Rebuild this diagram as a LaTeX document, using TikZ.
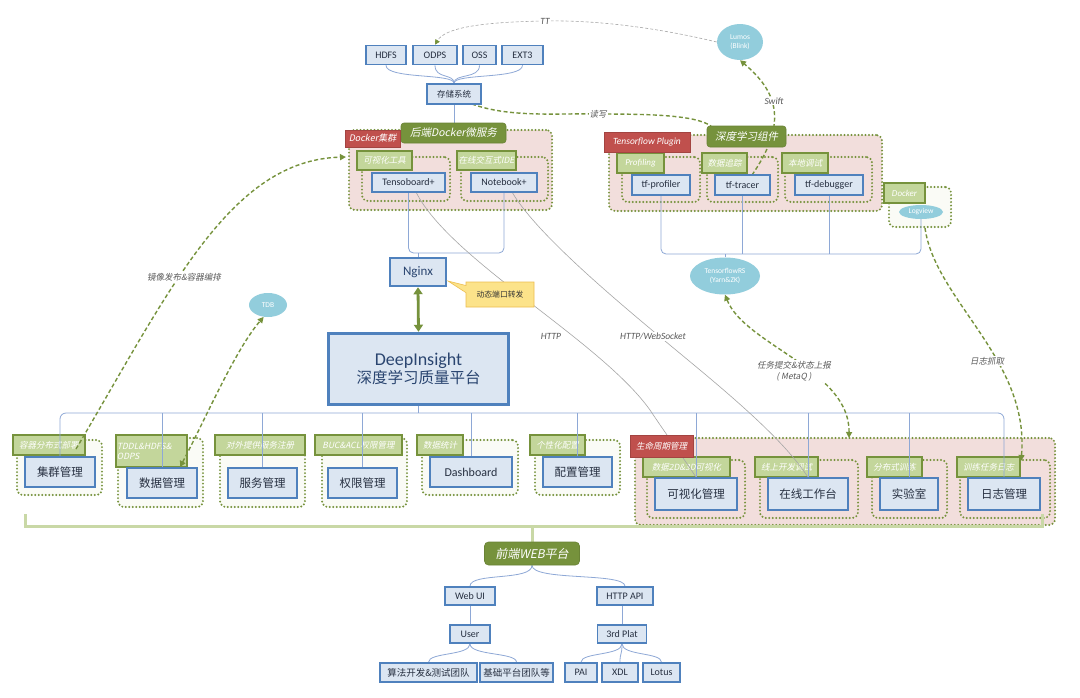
\documentclass[tikz,border=0pt]{standalone}
\usepackage{fontspec}
\setmainfont{Carlito}
\newfontfamily\cjk{Noto Sans CJK SC}
\newfontfamily\cjki[FakeSlant=0.2]{Noto Sans CJK SC}
\usetikzlibrary{shapes.geometric,shapes.callouts,arrows.meta}
\pgfdeclarelayer{bg}
\pgfdeclarelayer{mid}
\pgfsetlayers{bg,mid,main}
\definecolor{bxfill}{HTML}{DCE6F2}
\definecolor{bxline}{HTML}{4F81BD}
\definecolor{txtc}{HTML}{262F40}
\definecolor{ditxt}{HTML}{2A4570}
\definecolor{gdark}{HTML}{76923C}
\definecolor{glight}{HTML}{C3D69B}
\definecolor{rred}{HTML}{C0504D}
\definecolor{pinkf}{HTML}{F2DEDC}
\definecolor{grpw}{HTML}{FAFBF6}
\definecolor{ellf}{HTML}{92CDDC}
\definecolor{connc}{HTML}{8EA8D6}
\definecolor{callf}{HTML}{FCE38A}
\definecolor{callb}{HTML}{EDBE50}
\definecolor{brkc}{HTML}{C9D8A6}
\definecolor{lblc}{HTML}{595959}
\tikzset{
 bx/.style={draw=bxline, line width=1.6pt, fill=bxfill, text=txtc, inner sep=0pt, font=\fontsize{10}{12}\selectfont},
 bxc/.style={bx, font=\cjk\fontsize{11.5}{13}\selectfont},
 bxs/.style={bx, font=\cjk\fontsize{9.5}{11}\selectfont},
 grp/.style={draw=gdark, line width=2.2pt, dash pattern=on 0pt off 3.5pt, line cap=round, rounded corners=6pt, inner sep=0pt},
 tagbox/.style={draw=gdark, line width=1.6pt, fill=glight, text=white, inner sep=1pt, font=\cjki\fontsize{8.5}{10}\selectfont},
 redbox/.style={draw=rred!85!black, line width=0.8pt, fill=rred, text=white, inner sep=1pt},
 ttlbox/.style={fill=gdark, draw=gdark!90!black, line width=0.6pt, rounded corners=3pt, text=white, inner sep=1pt},
 ell/.style={ellipse, fill=ellf, text=white, inner sep=0pt, align=center, font=\fontsize{7.5}{8.5}\selectfont},
 conn/.style={draw=connc, line width=0.8pt},
 thinc/.style={draw=gray!70, line width=0.6pt},
 dashg/.style={draw=gdark, line width=1.4pt, dash pattern=on 4pt off 2.5pt},
 tipg/.style={-{Triangle[length=6pt,width=6pt]}},
 tipgg/.style={{Triangle[length=6pt,width=6pt]}-{Triangle[length=6pt,width=6pt]}},
 lbl/.style={text=lblc, font=\itshape\fontsize{9.5}{11}\selectfont, inner sep=1pt},
 lblc/.style={lbl, font=\cjki\fontsize{8.5}{11}\selectfont},
 brk/.style={draw=brkc, line width=3pt},
}
\begin{document}
\begin{tikzpicture}[x=1pt,y=-1pt]
\useasboundingbox (0,0) rectangle (1080,697);
\begin{pgfonlayer}{bg}
\fill[white] (0,0) rectangle (1080,697);
% top groups
\node[grp, fill=pinkf, minimum width=203, minimum height=80] (gdk) at (450.5,170) {};
\node[grp, fill=pinkf, minimum width=88, minimum height=44] (gtb) at (406,179) {};
\node[grp, fill=pinkf, minimum width=87, minimum height=44] (gnb) at (504.5,179) {};
\node[grp, fill=pinkf, minimum width=273, minimum height=76] (gtf) at (745.5,173) {};
\node[grp, fill=pinkf, minimum width=78, minimum height=45] (gpr) at (661,179.5) {};
\node[grp, fill=pinkf, minimum width=71, minimum height=45] (gtr) at (742.5,179.5) {};
\node[grp, fill=pinkf, minimum width=87, minimum height=45] (gdb) at (828.5,179.5) {};
\node[grp, fill=grpw, minimum width=62, minimum height=40] (gdr) at (920,207) {};
\node[tagbox, minimum width=55, minimum height=19] (tg1) at (384.5,160.5) {可视化工具};
\node[tagbox, minimum width=59, minimum height=19] (tg2) at (486.5,160.5) {在线交互式IDE};
\node[tagbox, minimum width=47, minimum height=20, font=\itshape\fontsize{9}{10}\selectfont] (tg3) at (640.5,163) {Profiling};
\node[tagbox, minimum width=45, minimum height=20] (tg4) at (724.5,163) {数据追踪};
\node[tagbox, minimum width=46, minimum height=20] (tg5) at (805,163) {本地调试};
\node[tagbox, minimum width=41, minimum height=20, font=\itshape\fontsize{9}{10}\selectfont] (tg6) at (904.5,193) {Docker};
% bottom groups
\node[grp, fill=grpw, minimum width=85, minimum height=55] (g1) at (59.5,467.5) {};
\node[grp, fill=grpw, minimum width=85, minimum height=69] (g2) at (160.5,472.5) {};
\node[grp, fill=grpw, minimum width=85, minimum height=69] (g3) at (262.5,472.5) {};
\node[grp, fill=grpw, minimum width=85, minimum height=69] (g4) at (364.5,472.5) {};
\node[grp, fill=grpw, minimum width=96, minimum height=55] (g5) at (470,467.5) {};
\node[grp, fill=grpw, minimum width=85, minimum height=55] (g6) at (577.5,467.5) {};
\node[grp, fill=pinkf, minimum width=420, minimum height=87] (glc) at (845,481.5) {};
\node[grp, fill=pinkf, minimum width=98, minimum height=58] (ga) at (696,489) {};
\node[grp, fill=pinkf, minimum width=98, minimum height=58] (gb) at (809,489) {};
\node[grp, fill=pinkf, minimum width=75, minimum height=58] (gc) at (909.5,489) {};
\node[grp, fill=pinkf, minimum width=90, minimum height=58] (gd) at (1005,489) {};
\node[tagbox, minimum width=72, minimum height=20] (t1) at (49,445) {容器分布式部署};
\node[tagbox, minimum height=32, text width=69, align=left] (t2) at (151.5,451) {TDDL\&HDFS\&\\ODPS};
\node[tagbox, minimum width=90, minimum height=20] (t3) at (260,445) {对外提供服务注册};
\node[tagbox, minimum width=87, minimum height=20] (t4) at (358.5,445) {BUC\&ACL权限管理};
\node[tagbox, minimum width=46, minimum height=20] (t5) at (440,445) {数据统计};
\node[tagbox, minimum width=55, minimum height=20] (t6) at (557.5,445) {个性化配置};
\node[tagbox, minimum width=87, minimum height=20] (ta) at (686.5,467) {数据2D\&3D可视化};
\node[tagbox, minimum width=63, minimum height=20] (tb2) at (786.5,467) {线上开发调试};
\node[tagbox, minimum width=55, minimum height=20] (tc) at (894.5,467) {分布式训练};
\node[tagbox, minimum width=63, minimum height=20] (td2) at (988.5,467) {训练任务日志};
\end{pgfonlayer}
% storage
\node[bx, minimum width=40, minimum height=19] (hdfs) at (386,55) {HDFS};
\node[bx, minimum width=44, minimum height=19] (odps) at (435,55) {ODPS};
\node[bx, minimum width=33, minimum height=19] (oss) at (479.5,55) {OSS};
\node[bx, minimum width=41, minimum height=19] (ext) at (522.5,55) {EXT3};
\node[bx, minimum width=54, minimum height=20, font=\cjk\fontsize{8.5}{10}\selectfont] (ss) at (454,94) {存储系统};
% docker
\node[ttlbox, minimum width=105, minimum height=20, font=\cjki\fontsize{10.5}{12}\selectfont] (dt) at (453.5,133) {后端Docker微服务};
\node[redbox, minimum width=55, minimum height=17, font=\cjki\fontsize{9}{10}\selectfont] (dr) at (372.5,138.5) {Docker集群};
\node[bx, minimum width=73, minimum height=19] (tb) at (408.5,182.5) {Tensoboard+};
\node[bx, minimum width=66, minimum height=19] (nb) at (504,182.5) {Notebook+};
% tensorflow plugin
\node[ttlbox, minimum width=79, minimum height=21, font=\cjki\fontsize{10.5}{12}\selectfont] (dl) at (746.5,136.5) {深度学习组件};
\node[redbox, minimum width=86, minimum height=20, font=\itshape\fontsize{9.5}{11}\selectfont] (tfp) at (647,142) {Tensorflow Plugin};
\node[bx, minimum width=58, minimum height=20] (tp) at (661,185) {tf-profiler};
\node[bx, minimum width=55, minimum height=20] (tt) at (742.5,185) {tf-tracer};
\node[bx, minimum width=68, minimum height=20] (tdg) at (829,185) {tf-debugger};
% ellipses
\node[ell, minimum width=46, minimum height=36] (lm) at (740,42) {Lumos\\(Blink)};
\node[ell, minimum width=70, minimum height=37] (rs) at (725,276) {TensorflowRS\\(Yarn\&ZK)};
\node[ell, minimum width=38, minimum height=24] (tdb) at (268,305) {TDB};
\node[ell, minimum width=44, minimum height=14] (lv) at (921,212) {Logview};
% nginx and core
\node[bx, line width=2.5pt, minimum width=56, minimum height=28, font=\fontsize{13}{15}\selectfont, text=ditxt] (ng) at (418,272) {Nginx};
\node[rectangle callout, fill=callf, draw=callb, line width=0.6pt, minimum width=68, minimum height=25, callout absolute pointer={(448,281)}, font=\cjk\fontsize{7.8}{9}\selectfont, text=black!80, inner sep=1pt] (cb) at (500,294.5) {动态端口转发};
\node[bx, line width=3.5pt, minimum width=180, minimum height=71, align=center, text=ditxt] (di) at (418.5,369) {\fontsize{18}{22}\selectfont DeepInsight\\[1pt]{\cjk\fontsize{15.5}{19}\selectfont 深度学习质量平台}};
% bottom row
\node[bxc, minimum width=70, minimum height=30] (b1) at (60,472) {集群管理};
\node[bxc, minimum width=70, minimum height=30] (b2) at (162,483) {数据管理};
\node[bxc, minimum width=69, minimum height=30] (b3) at (262.5,483) {服务管理};
\node[bxc, minimum width=69, minimum height=30] (b4) at (362.5,483) {权限管理};
\node[bx, minimum width=82, minimum height=30, font=\fontsize{12}{14}\selectfont] (b5) at (471,472) {Dashboard};
\node[bxc, minimum width=69, minimum height=30] (b6) at (577.5,472) {配置管理};
\node[bxc, minimum width=82, minimum height=32] (b7) at (696,494) {可视化管理};
\node[bxc, minimum width=80, minimum height=32] (b8) at (808,494) {在线工作台};
\node[bxc, minimum width=58, minimum height=32] (b9) at (909,494) {实验室};
\node[bxc, minimum width=72, minimum height=32] (b10) at (1004,494) {日志管理};
\node[redbox, minimum width=63, minimum height=22, font=\cjki\fontsize{8.5}{10}\selectfont] (lc) at (661.5,446) {生命周期管理};
% web platform
\node[ttlbox, rounded corners=4pt, minimum width=95, minimum height=23, font=\cjki\fontsize{12}{14}\selectfont] (web) at (532,553.5) {前端WEB平台};
\node[bx, minimum width=50, minimum height=18] (wui) at (470,596) {Web UI};
\node[bx, minimum width=56, minimum height=18] (api) at (625,596) {HTTP API};
\node[bx, minimum width=40, minimum height=18] (usr) at (470,634) {User};
\node[bx, minimum width=49, minimum height=18] (plat) at (622,634) {3rd Plat};
\node[bxs, minimum width=97, minimum height=19] (alg) at (428.5,672.5) {算法开发\&测试团队};
\node[bxs, minimum width=73, minimum height=19] (jc) at (516.5,672.5) {基础平台团队等};
\node[bx, minimum width=32, minimum height=19] (pai) at (581,672.5) {PAI};
\node[bx, minimum width=36, minimum height=19] (xdl) at (620,672.5) {XDL};
\node[bx, minimum width=37, minimum height=19] (lot) at (661.5,672.5) {Lotus};
% coordinates for free ends
\coordinate (c1a) at (76,449);
\coordinate (c1b) at (346,157);
\coordinate (c2a) at (180,467);
\coordinate (c3a) at (472,104);
\coordinate (c3b) at (711,126);
\coordinate (c5a) at (752,175);
\coordinate (c6b) at (849,438);
\coordinate (c7a) at (925,228);
\coordinate (c7b) at (1021,461);
\coordinate (c8a) at (416,192);
\coordinate (c9a) at (512,192);
\begin{pgfonlayer}{mid}
% storage tree
\foreach \n in {hdfs,odps,oss,ext} \draw[conn] (\n.south) .. controls +(0,14) and +(0,-10) .. (ss.north);
\draw[conn] (ss.south) -- (ss.south |- dt.north);
% docker tree
\draw[conn, rounded corners=5pt] (tb.south) -- (tb.south |- 0,253) -- (nb.south |- 0,253) -- (nb.south);
\draw[conn] (ng.north) -- (ng.north |- 0,253);
% tf tree
\draw[conn, rounded corners=5pt] (tp.south) -- (tp.south |- 0,254) -- (lv.south |- 0,254) -- (lv.south);
\draw[conn] (tt.south) -- (tt.south |- 0,254);
\draw[conn] (tdg.south) -- (tdg.south |- 0,254);
\draw[conn] (rs.north) -- (rs.north |- 0,254);
% core tree
\draw[conn, rounded corners=6pt] (b1.north) -- (b1.north |- 0,413) -- (b10.north |- 0,413) -- (b10.north);
\draw[conn] (di.south) -- (di.south |- 0,413);
\foreach \n in {b2,b3,b4,b5,b6,b7,b8,b9} \draw[conn] (\n.north) -- (\n.north |- 0,413);
% web tree
\draw[conn] (web.south) .. controls +(0,16) and +(0,-14) .. (wui.north);
\draw[conn] (web.south) .. controls +(0,16) and +(0,-14) .. (api.north);
\draw[conn] (wui.south) -- (usr.north);
\draw[conn] (plat.north |- api.south) -- (plat.north);
\draw[conn] (usr.south) .. controls +(0,12) and +(0,-10) .. (alg.north);
\draw[conn] (usr.south) .. controls +(0,12) and +(0,-10) .. (jc.north);
\draw[conn] (plat.south) .. controls +(0,12) and +(0,-10) .. (pai.north);
\draw[conn] (plat.south) .. controls +(0,12) and +(0,-10) .. (xdl.north);
\draw[conn] (plat.south) .. controls +(0,12) and +(0,-10) .. (lot.north);
% bracket
\draw[brk] (25,514) -- (25,526) -- (1042,526) -- (1042,514);
\draw[brk] (web.north |- 0,526) -- (web.north);
% nginx <-> core
\draw[gdark, line width=2.8pt, {Triangle[length=7pt,width=9pt]}-{Triangle[length=7pt,width=9pt]}] (ng.south) -- (di.north);
% thin http lines
\draw[thinc] (c8a) .. controls (450,260) and (600,340) .. (650,410) .. controls (670,440) and (685,460) .. (b7.north);
\draw[thinc] (c9a) .. controls (540,240) and (640,320) .. (700,370) .. controls (760,420) and (790,450) .. (b8.north);
\node[lbl] (lh) at (551,336) {HTTP};
\node[lbl, fill=white] (lw) at (653,336) {HTTP/WebSocket};
% TT
\draw[thinc, dash pattern=on 3pt off 2pt, -{Triangle[length=5pt,width=5pt,color=gdark]}] (lm.west) .. controls (650,26) and (590,20) .. (545,21) .. controls (480,22) and (445,28) .. (odps.north);
\node[lbl, fill=white] (ltt) at (545,21) {TT};
% dashed green
\draw[dashg, tipg] (c1a) .. controls (170,290) and (230,160) .. (c1b);
\node[lblc, fill=white] (l1) at (184,277) {镜像发布\&容器编排};
\draw[dashg, tipgg] (c2a) .. controls (205,420) and (235,350) .. (tdb.250);
\draw[dashg] (c3a) .. controls (510,118) and (560,113) .. (598,114) .. controls (650,114) and (695,115) .. (c3b);
\node[lblc, fill=white] (l3) at (598,114) {读写};
\draw[dashg, tipg] (c5a) .. controls (790,120) and (775,90) .. (lm.south);
\node[lbl, fill=white] (l5) at (774,101) {Swift};
\draw[dashg, tipgg] (rs.south) .. controls (745,345) and (850,370) .. (c6b);
\node[lblc, fill=white, align=center] (l6) at (794,371) {任务提交\&状态上报\\( MetaQ )};
\draw[dashg, tipg] (c7a) .. controls (935,300) and (1030,360) .. (c7b);
\node[lblc, fill=white] (l7) at (987,361) {日志抓取};
\end{pgfonlayer}
\end{tikzpicture}
\end{document}
